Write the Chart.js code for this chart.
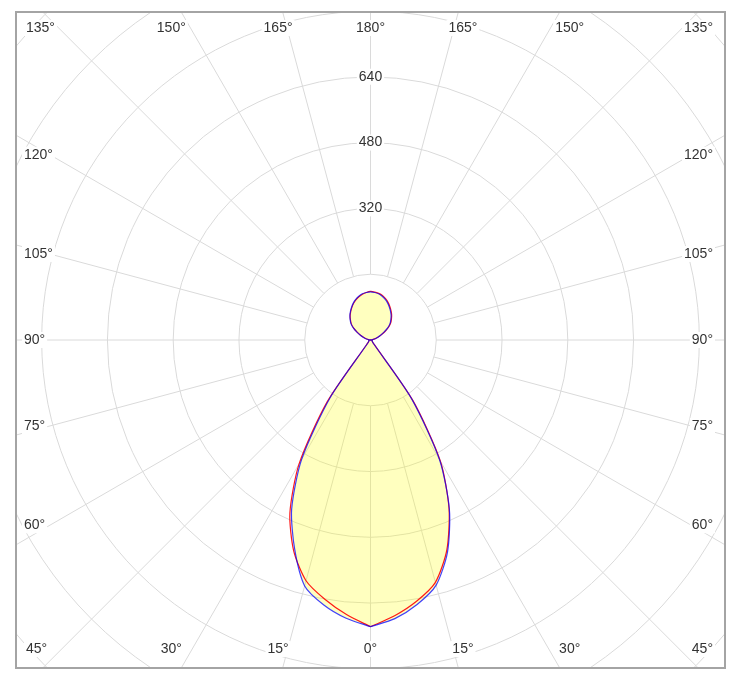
<!DOCTYPE html>
<html>
<head>
<meta charset="utf-8">
<script src="https://cdn.jsdelivr.net/npm/chart.js@4.4.1/dist/chart.umd.min.js"></script>
<style>
  html, body { margin: 0; padding: 0; background: #fff; }
  canvas { display: block; }
</style>
</head>
<body>
<canvas id="polar" width="741" height="684"></canvas>
<script>
// gamma angles, degrees from nadir (0 = straight down, 180 = straight up)
const gammaAngles = [0, 5, 10, 15, 20, 25, 30, 35, 40, 45, 50, 55, 60, 65, 70, 75, 80, 85, 90,
  95, 100, 105, 110, 115, 120, 125, 130, 135, 140, 145, 150, 155, 160, 165, 170, 175, 180];

// luminous intensity (cd), right and left half of each plane
const redRight = [697, 673, 645, 610, 543, 452, 340, 180, 14, 8, 6, 5, 5, 5, 4, 4, 3, 2, 0,
  2, 5, 11, 19, 28, 40, 53, 64, 72, 80, 87, 94, 101, 107, 112, 115, 117, 118];
const redLeft = [697, 670, 640, 606, 546, 464, 347, 185, 15, 8, 6, 5, 5, 5, 4, 4, 3, 2, 0,
  2, 5, 10, 17, 26, 37, 50, 61, 69, 77, 84, 91, 98, 104, 109, 113, 116, 118];
const blueRight = [697, 680, 653, 617, 548, 454, 336, 174, 12, 7, 6, 5, 5, 5, 4, 4, 3, 2, 0,
  2, 5, 10, 18, 27, 38, 51, 62, 70, 78, 85, 92, 99, 105, 110, 114, 116, 117];
const blueLeft = [697, 679, 654, 619, 540, 454, 335, 172, 12, 7, 6, 5, 5, 5, 4, 4, 3, 2, 0,
  2, 5, 10, 18, 27, 38, 51, 62, 70, 78, 85, 92, 99, 105, 110, 114, 116, 117];

// grid rings (cd) and the ones that get a number
const ringValues = [160, 320, 480, 640, 800, 960, 1120, 1280];
const ringLabels = [320, 480, 640];
// spokes / angle labels every 15 degrees
const angleLabels = [0, 15, 30, 45, 60, 75, 90, 105, 120, 135, 150, 165, 180];

const rad = d => d * Math.PI / 180;

// walk right half 0 -> 180, then left half 180 -> 0 so the outline closes
function toXY(right, left) {
  const pts = [];
  gammaAngles.forEach((g, i) => {
    pts.push({ x: right[i] * Math.sin(rad(g)), y: -right[i] * Math.cos(rad(g)) });
  });
  for (let i = gammaAngles.length - 2; i >= 0; i--) {
    const g = gammaAngles[i];
    pts.push({ x: -left[i] * Math.sin(rad(g)), y: -left[i] * Math.cos(rad(g)) });
  }
  return pts;
}

const FONT = '14px "Liberation Sans", Arial, sans-serif';

function labelBox(ctx, text, x, y, align) {
  const w = ctx.measureText(text).width;
  let left = x;
  if (align === 'center') left = x - w / 2;
  if (align === 'right') left = x - w;
  ctx.fillStyle = '#fff';
  ctx.fillRect(left - 2, y - 8, w + 4, 16);
  ctx.fillStyle = '#333';
  ctx.textAlign = 'left';
  ctx.textBaseline = 'middle';
  ctx.fillText(text, left, y);
}

const polarGrid = {
  id: 'polarGrid',
  beforeDraw(chart) {
    const { ctx, chartArea: a, scales: { x, y } } = chart;
    const cx = x.getPixelForValue(0), cy = y.getPixelForValue(0);
    ctx.save();
    ctx.beginPath();
    ctx.rect(a.left, a.top, a.width, a.height);
    ctx.clip();
    ctx.strokeStyle = '#dadada';
    ctx.lineWidth = 1;
    ringValues.forEach(v => {
      ctx.beginPath();
      ctx.arc(cx, cy, x.getPixelForValue(v) - cx, 0, Math.PI * 2);
      ctx.stroke();
    });
    const inner = ringValues[0], outer = 2000;
    for (let d = 0; d < 360; d += 15) {
      const s = Math.sin(rad(d)), c = Math.cos(rad(d));
      ctx.beginPath();
      ctx.moveTo(x.getPixelForValue(s * inner), y.getPixelForValue(-c * inner));
      ctx.lineTo(x.getPixelForValue(s * outer), y.getPixelForValue(-c * outer));
      ctx.stroke();
    }
    ctx.restore();
  },
  afterDraw(chart) {
    const { ctx, chartArea: a, scales: { x, y } } = chart;
    const cx = x.getPixelForValue(0), cy = y.getPixelForValue(0);
    ctx.save();
    ctx.font = FONT;

    // intensity numbers up the 180 spoke
    ringLabels.forEach(v => labelBox(ctx, String(v), cx, y.getPixelForValue(v), 'center'));

    // angle labels round the frame
    angleLabels.forEach(g => {
      const sides = (g === 0 || g === 180) ? [1] : [-1, 1];
      sides.forEach(side => {
        const text = g + '°';
        const w = ctx.measureText(text).width;
        if (g <= 45 || g >= 135) {
          const off = 345 * Math.tan(rad(g <= 45 ? g : 180 - g));
          let px = cx + side * off;
          px = Math.max(a.left + 9 + w / 2, Math.min(a.right - 11 - w / 2, px));
          const py = g <= 45 ? a.bottom - 18 : a.top + 15;
          labelBox(ctx, text, px, py, 'center');
        } else {
          const py = cy - 321 * Math.tan(rad(g - 90));
          if (side < 0) labelBox(ctx, text, a.left + 7, py, 'left');
          else labelBox(ctx, text, a.right - 11, py, 'right');
        }
      });
    });

    // frame
    ctx.strokeStyle = '#a4a4a4';
    ctx.lineWidth = 2;
    ctx.strokeRect(a.left - 1, a.top - 1, a.width + 2, a.height + 2);
    ctx.restore();
  }
};

new Chart(document.getElementById('polar'), {
  type: 'line',
  data: {
    datasets: [
      {
        label: 'C90-C270',
        data: toXY(blueRight, blueLeft),
        borderColor: 'rgba(0, 0, 255, 0.75)',
        borderWidth: 1.2,
        backgroundColor: 'rgba(255, 255, 0, 0.25)',
        fill: 'shape',
        pointRadius: 0,
        tension: 0.25
      },
      {
        label: 'C0-C180',
        data: toXY(redRight, redLeft),
        borderColor: 'rgba(255, 0, 0, 0.9)',
        borderWidth: 1.2,
        fill: false,
        pointRadius: 0,
        tension: 0.25
      }
    ]
  },
  options: {
    responsive: false,
    devicePixelRatio: 1,
    animation: false,
    layout: { padding: { left: 17, top: 13, right: 17, bottom: 17 } },
    scales: {
      x: { type: 'linear', min: -860, max: 860, display: false },
      y: { type: 'linear', min: -795, max: 795, display: false }
    },
    plugins: {
      legend: { display: false },
      tooltip: { enabled: false },
      filler: { drawTime: 'beforeDatasetsDraw' }
    }
  },
  plugins: [polarGrid]
});
</script>
</body>
</html>
